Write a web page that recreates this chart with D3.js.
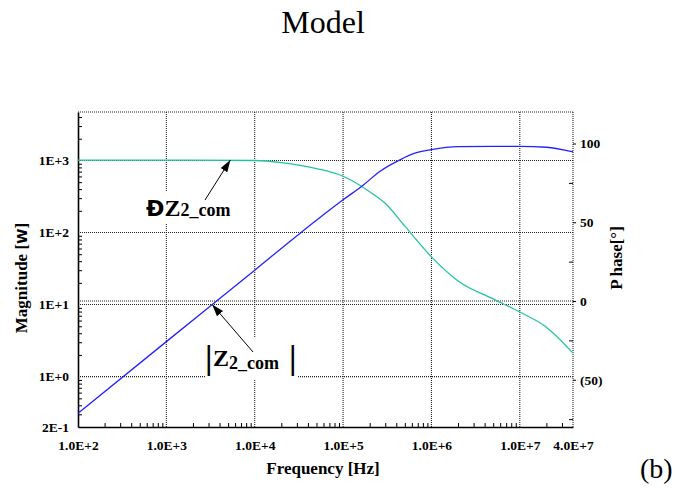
<!DOCTYPE html>
<html>
<head>
<meta charset="utf-8">
<script src="https://cdn.jsdelivr.net/npm/d3@7"></script>
<style>
  html, body { margin: 0; padding: 0; background: #fff; }
  svg { display: block; }
</style>
</head>
<body>
<svg id="chart" width="692" height="489"></svg>
<script>
// Frequency sweep of Z2_com: magnitude (ohms) and phase (degrees)
const magFreq = [1e2, 1e3, 1e4, 3.24e4, 1e5, 1.7e5, 2.6e5, 4.4e5, 6.5e5, 1e6, 2e6, 5e6, 1e7, 2e7, 4e7];
const magnitude = [0.31, 3.06, 30, 97, 284, 457, 703, 1020, 1260, 1410, 1550, 1563, 1563, 1525, 1310];

const phaseFreq = [1e2, 1e3, 1e4, 2e4, 5e4, 1e5, 2e5, 3e5, 5e5, 1e6, 2e6, 5e6, 1e7, 2e7, 4e7];
const phase = [89.5, 89.5, 89.2, 87.9, 84.1, 79.2, 69.4, 62.0, 47.5, 28.0, 12.7, 1.3, -7.0, -16.6, -33.1];

// Axis ticks and their labels
const freqTicks = [1e2, 1e3, 1e4, 1e5, 1e6, 1e7, 4e7];
const freqLabels = ["1.0E+2", "1.0E+3", "1.0E+4", "1.0E+5", "1.0E+6", "1.0E+7", "4.0E+7"];
const magTicks = [0.2, 1, 10, 100, 1000];
const magLabels = ["2E-1", "1E+0", "1E+1", "1E+2", "1E+3"];
const phaseTicks = [-50, 0, 50, 100];
const phaseLabels = ["(50)", "0", "50", "100"];

const SERIF = '"Liberation Serif", "Times New Roman", serif';
const svg = d3.select("#chart");
const pL = 78, pR = 573, pT = 112, pB = 427;

const x = d3.scaleLog().domain([1e2, 4e7]).range([pL, pR]);
const yMag = d3.scaleLog().domain([0.2, 4700]).range([pB, pT]);
const yPh = d3.scaleLinear().domain([-80, 120]).range([pB, pT]);

const gridStyle = sel => sel.attr("stroke", "#222").attr("stroke-width", 1.1).attr("stroke-dasharray", "1,1");
const txt = (sel, size, bold) => sel.style("font-family", SERIF).style("font-size", size + "px")
  .style("font-weight", bold ? "bold" : "normal").attr("fill", "#000");

// Grid
const grid = svg.append("g");
grid.selectAll("line.v").data(freqTicks.filter(d => d > 1e2 && d <= 1e7)).join("line")
  .attr("x1", d => x(d)).attr("x2", d => x(d)).attr("y1", pT).attr("y2", pB).call(gridStyle);
grid.selectAll("line.h").data(magTicks.filter(d => d >= 1)).join("line")
  .attr("x1", pL).attr("x2", pR).attr("y1", d => yMag(d)).attr("y2", d => yMag(d)).call(gridStyle);
grid.append("line").attr("x1", pL).attr("x2", pR).attr("y1", yPh(0)).attr("y2", yPh(0)).call(gridStyle);

// Minor log ticks
const minorFreq = [];
for (let e = 2; e <= 7; e++) for (let m = 2; m <= 9; m++) { const v = m * Math.pow(10, e); if (v < 4e7) minorFreq.push(v); }
const minorMag = [];
for (let e = -1; e <= 3; e++) for (let m = 2; m <= 9; m++) { const v = m * Math.pow(10, e); if (v > 0.2 && v < 4700) minorMag.push(v); }

svg.append("g").attr("transform", `translate(0,${pB})`)
  .call(d3.axisBottom(x).tickValues(minorFreq).tickSizeInner(-4).tickSizeOuter(0).tickFormat(""))
  .call(g => g.select(".domain").remove())
  .selectAll("line").attr("stroke", "#000");
svg.append("g").attr("transform", `translate(${pL},0)`)
  .call(d3.axisLeft(yMag).tickValues(minorMag).tickSizeInner(-4).tickSizeOuter(0).tickFormat(""))
  .call(g => g.select(".domain").remove())
  .selectAll("line").attr("stroke", "#000");
svg.append("g").attr("transform", `translate(${pR},0)`)
  .call(d3.axisLeft(yPh).tickValues([-75, -25, 25, 75]).tickSizeInner(4).tickSizeOuter(0).tickFormat(""))
  .call(g => g.select(".domain").remove())
  .selectAll("line").attr("stroke", "#000");

// Frame: solid left/bottom, dotted top/right
svg.append("line").attr("x1", pL).attr("x2", pR).attr("y1", pT).attr("y2", pT).call(gridStyle);
svg.append("line").attr("x1", pR).attr("x2", pR).attr("y1", pT).attr("y2", pB).call(gridStyle);

// Axes with labels
const labelFont = g => g.selectAll("text").call(txt, 13.5, true);

svg.append("g").attr("transform", `translate(0,${pB})`)
  .call(d3.axisBottom(x).tickValues(freqTicks).tickSize(0).tickPadding(13)
    .tickFormat((d, i) => freqLabels[i]))
  .call(g => g.select(".domain").attr("stroke", "#000").attr("stroke-width", 1.6))
  .call(labelFont);

svg.append("g").attr("transform", `translate(${pL},0)`)
  .call(d3.axisLeft(yMag).tickValues(magTicks).tickSize(0).tickPadding(9)
    .tickFormat((d, i) => magLabels[i]))
  .call(g => g.select(".domain").attr("stroke", "#000").attr("stroke-width", 1.6))
  .call(labelFont);

svg.append("g").attr("transform", `translate(${pR},0)`)
  .call(d3.axisRight(yPh).tickValues(phaseTicks).tickSizeInner(3).tickSizeOuter(0).tickPadding(4)
    .tickFormat((d, i) => phaseLabels[i]))
  .call(g => g.select(".domain").remove())
  .call(g => g.selectAll("line").attr("stroke", "#000"))
  .call(labelFont);

// Curves
const magLine = d3.line().x((d, i) => x(magFreq[i])).y(d => yMag(d)).curve(d3.curveMonotoneX);
const phLine = d3.line().x((d, i) => x(phaseFreq[i])).y(d => yPh(d)).curve(d3.curveMonotoneX);

svg.append("path").datum(phase).attr("d", phLine)
  .attr("fill", "none").attr("stroke", "#22c4a0").attr("stroke-width", 1.3);
svg.append("path").datum(magnitude).attr("d", magLine)
  .attr("fill", "none").attr("stroke", "#2222ff").attr("stroke-width", 1.3);

// Titles
svg.append("text").attr("x", 323).attr("y", 33).attr("text-anchor", "middle")
  .call(txt, 32, false).text("Model");

svg.append("text").attr("x", 323).attr("y", 474).attr("text-anchor", "middle")
  .call(txt, 17, true).text("Frequency [Hz]");

const magTitle = svg.append("text").attr("transform", "translate(27,278) rotate(-90)")
  .attr("text-anchor", "middle").call(txt, 17, true);
magTitle.append("tspan").text("Magnitude [");
magTitle.append("tspan").style("font-family", '"DejaVu Sans", sans-serif').style("font-size", "14px").text("W");
magTitle.append("tspan").text("]");

const phTitle = svg.append("text").attr("transform", "translate(622,258) rotate(-90)")
  .attr("text-anchor", "middle").call(txt, 17, true);
phTitle.append("tspan").text("P");
phTitle.append("tspan").attr("dx", 3).text("hase[°]");

svg.append("text").attr("x", 640).attr("y", 478).call(txt, 28, false).text("(b)");

// Annotations
const defs = svg.append("defs");
defs.append("marker").attr("id", "head").attr("viewBox", "0 0 12 8")
  .attr("refX", 12).attr("refY", 4).attr("markerWidth", 12).attr("markerHeight", 8)
  .attr("markerUnits", "userSpaceOnUse").attr("orient", "auto")
  .append("path").attr("d", "M0,0 L12,4 L0,8 Z").attr("fill", "#000");

// Phase label
svg.append("rect").attr("x", 141).attr("y", 191).attr("width", 104).attr("height", 32).attr("fill", "#fff");
const phLabel = svg.append("text").attr("x", 146).attr("y", 216).call(txt, 24, true);
phLabel.append("tspan").style("font-family", '"DejaVu Sans", sans-serif').style("font-size", "22px").text("Đ");
phLabel.append("tspan").text("Z");
phLabel.append("tspan").style("font-size", "18px").text("2_com");
svg.append("line").attr("x1", 205).attr("y1", 200)
  .attr("x2", x(5.3e3)).attr("y2", yPh(89.5))
  .attr("stroke", "#000").attr("stroke-width", 1).attr("marker-end", "url(#head)");

// Magnitude label
svg.append("rect").attr("x", 205).attr("y", 338).attr("width", 93).attr("height", 42).attr("fill", "#fff");
const bar = xp => svg.append("text").attr("x", xp).attr("y", 369).call(txt, 34, true).text("|");
bar(205);
const magLabel = svg.append("text").attr("x", 213).attr("y", 366).call(txt, 24, true);
magLabel.append("tspan").text("Z");
magLabel.append("tspan").style("font-size", "18px").attr("dy", 3).text("2_com");
bar(289);
svg.append("line").attr("x1", 253).attr("y1", 352)
  .attr("x2", x(3.3e3)).attr("y2", yMag(10))
  .attr("stroke", "#000").attr("stroke-width", 1).attr("marker-end", "url(#head)");
</script>
</body>
</html>
